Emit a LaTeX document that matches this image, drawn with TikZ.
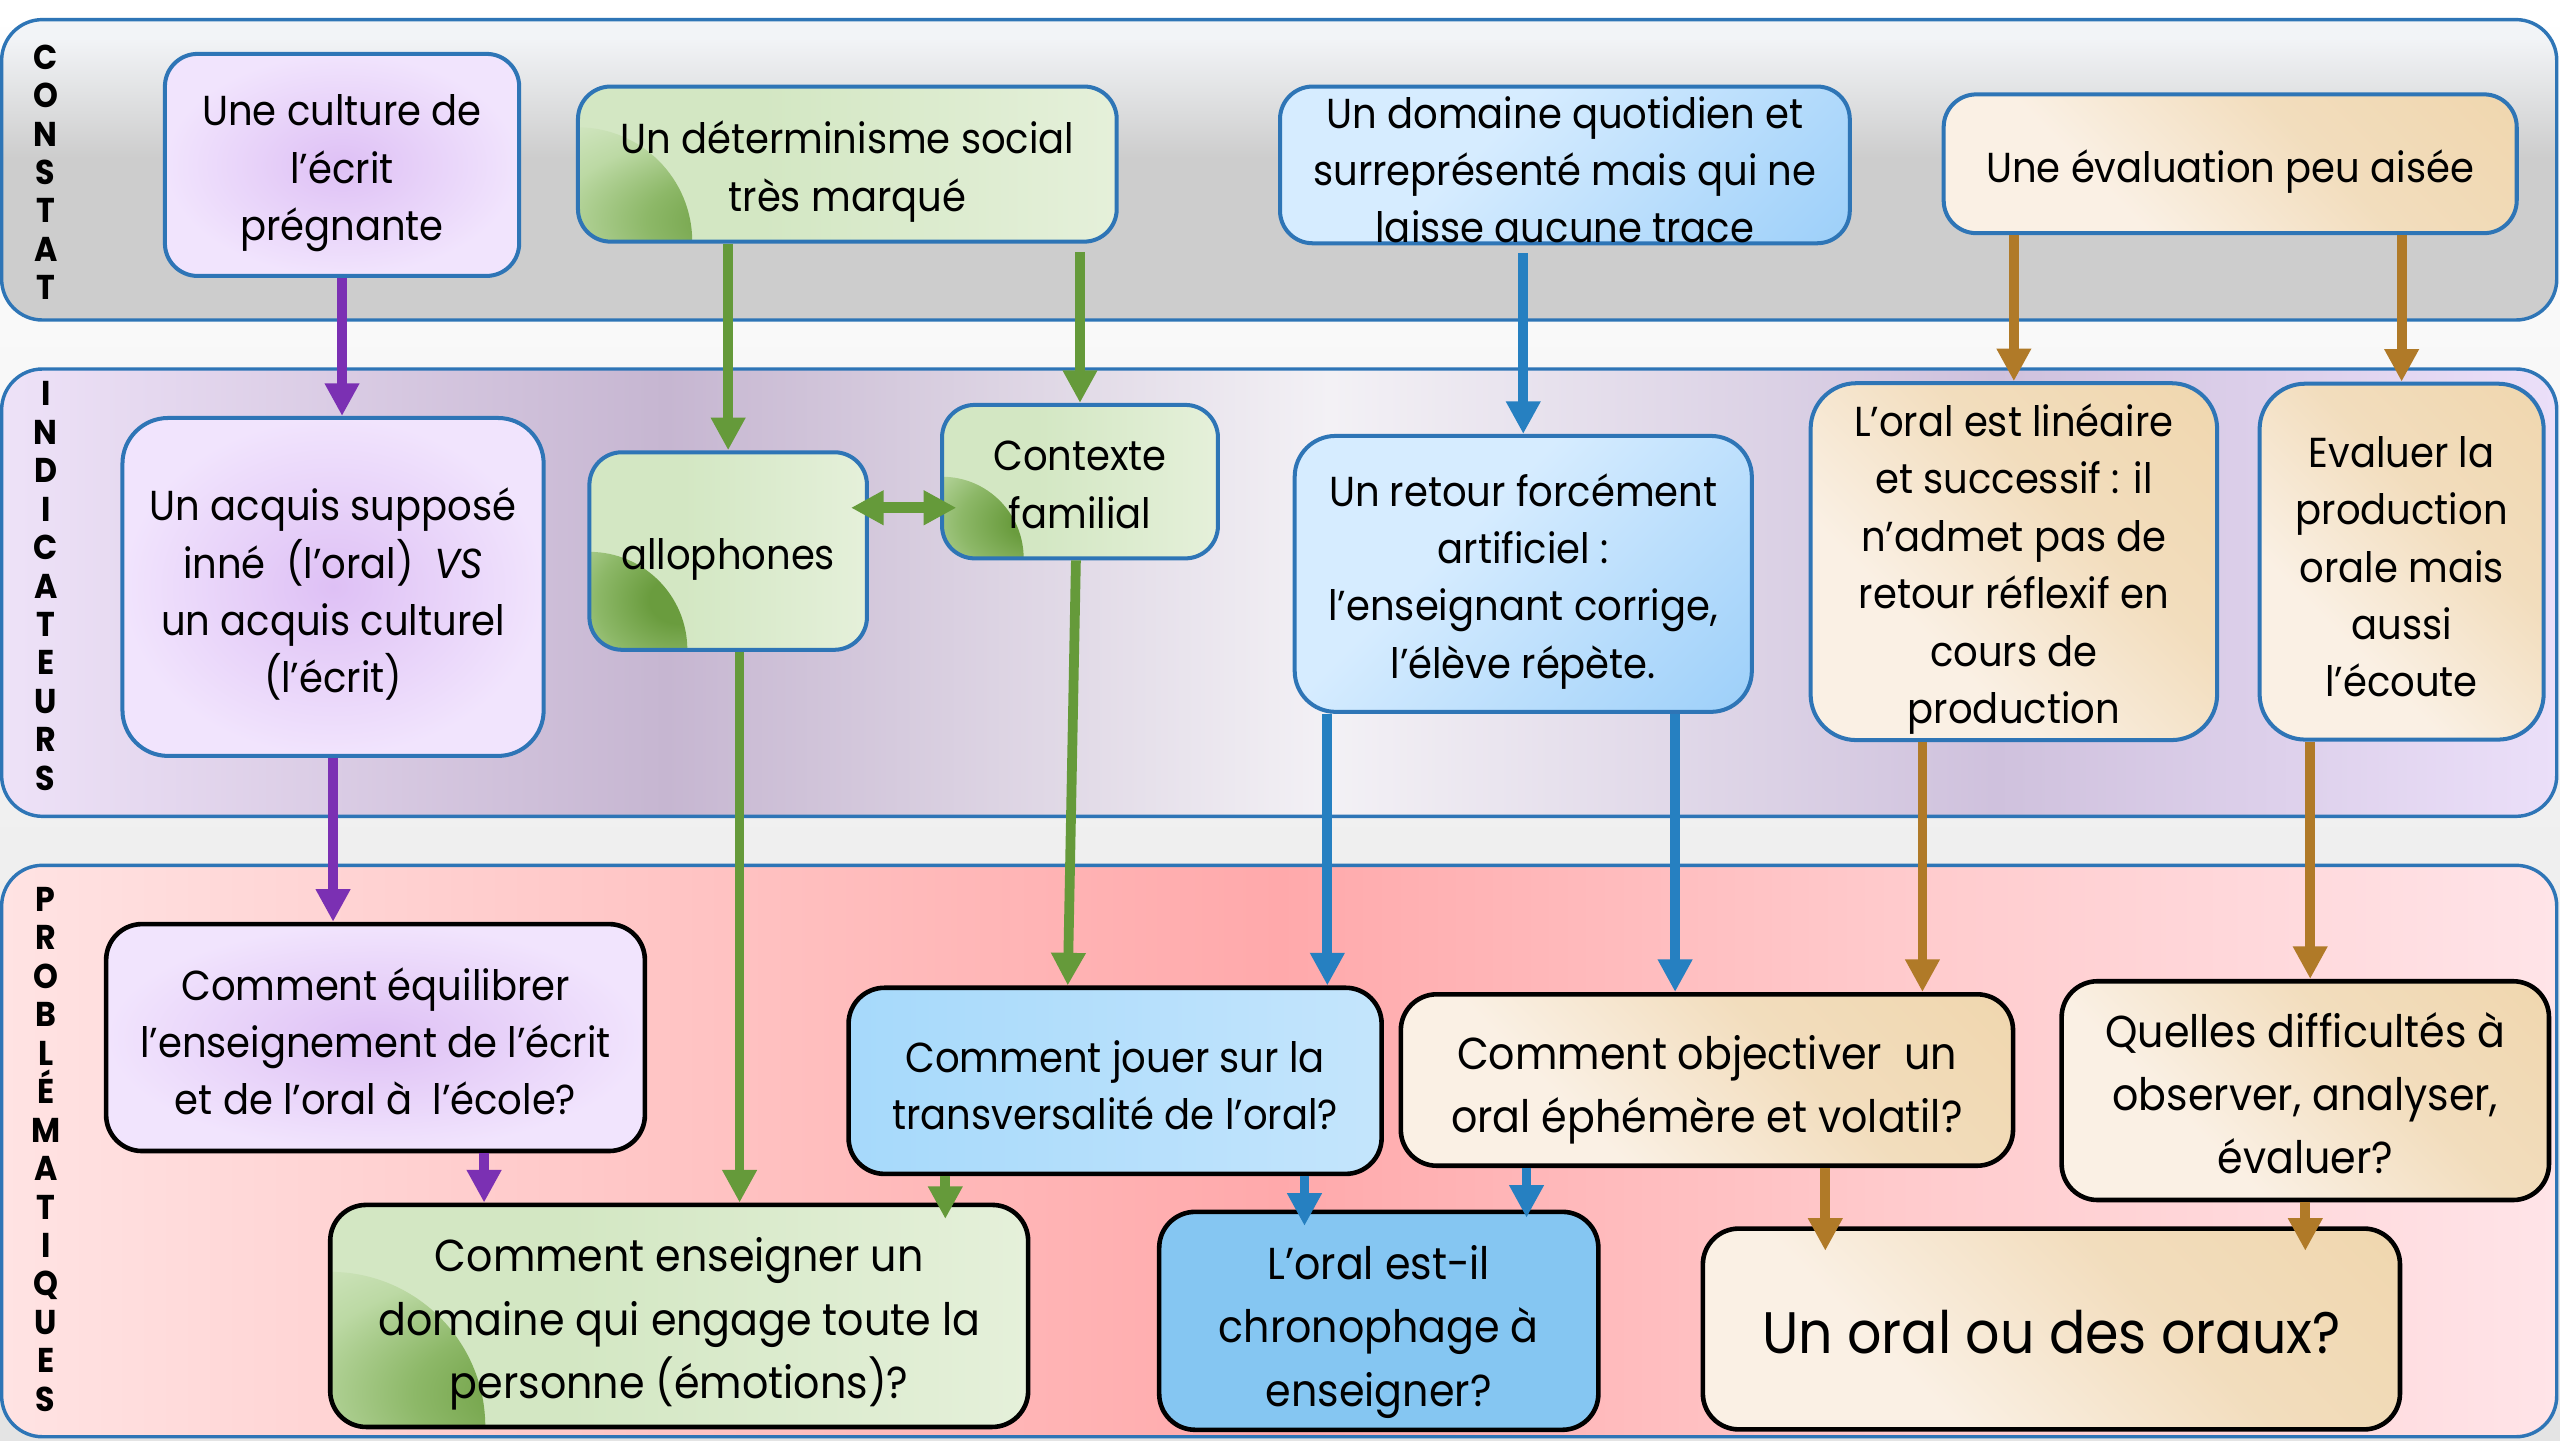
\documentclass[tikz,border=0pt]{standalone}
\usepackage{fontspec}
\setmainfont[FakeStretch=0.92]{Poppins}
\usepackage{tikz}
\usetikzlibrary{arrows.meta,shadings}
\definecolor{bandblue}{HTML}{2E75B6}
\definecolor{arrPurple}{HTML}{7B30B3}
\definecolor{arrGreen}{HTML}{659A3A}
\definecolor{arrBlue}{HTML}{2680C1}
\definecolor{arrBrown}{HTML}{B07A28}
\definecolor{purpC}{HTML}{DEC0F5}
\definecolor{purpE}{HTML}{F1E4FD}
\definecolor{grnDark}{HTML}{6A9C3E}
\definecolor{grnMid}{HTML}{8DB868}
\definecolor{grnSoft}{HTML}{BCD9A4}
\definecolor{grnLight}{HTML}{D3E7C3}
\definecolor{grnPale}{HTML}{E5F0DA}
\definecolor{bluLight}{HTML}{D6ECFF}
\definecolor{bluDark}{HTML}{8AC6F7}
\definecolor{jouL}{HTML}{A6D9FB}
\definecolor{jouM}{HTML}{83C6F2}
\definecolor{jouR}{HTML}{C4E5FC}
\definecolor{chrFill}{HTML}{85C6F2}
\definecolor{bgeLight}{HTML}{FAF0E4}
\definecolor{bgeMid}{HTML}{F2DDBD}
\definecolor{bgeDark}{HTML}{EFD3A6}
\definecolor{grTop}{HTML}{F2F4F7}
\definecolor{grBot}{HTML}{CDCDCD}
\definecolor{indA}{HTML}{EEE2F8}
\definecolor{indB}{HTML}{C6B6D1}
\definecolor{indC}{HTML}{F3F1F5}
\definecolor{indD}{HTML}{CFC1DD}
\definecolor{indE}{HTML}{EBDFF9}
\definecolor{prA}{HTML}{FFE3E3}
\definecolor{prB}{HTML}{FFC0C0}
\definecolor{prC}{HTML}{FFA9AB}
\definecolor{prD}{HTML}{FFCACC}
\definecolor{prE}{HTML}{FFE4E8}
\definecolor{bgGray}{HTML}{E4E4E4}
\pgfdeclareradialshading{greenspot}{\pgfpoint{0bp}{0bp}}{color(0bp)=(grnDark); color(4bp)=(grnDark); color(11bp)=(grnMid); color(18bp)=(grnSoft); color(25bp)=(grnLight); color(50bp)=(grnLight)}
\pgfdeclarehorizontalshading{greenbase}{100bp}{color(0bp)=(grnLight); color(42bp)=(grnLight); color(75bp)=(grnPale); color(100bp)=(grnPale)}
\pgfdeclarehorizontalshading{beigecorner}{100bp}{color(0bp)=(bgeLight); color(35bp)=(bgeLight); color(60bp)=(bgeMid); color(100bp)=(bgeDark)}
\pgfdeclarehorizontalshading{bluecorner}{100bp}{color(0bp)=(bluLight); color(40bp)=(bluLight); color(100bp)=(bluDark)}
\pgfdeclareverticalshading{constatshade}{100bp}{color(0bp)=(grBot); color(52bp)=(grBot); color(72bp)=(grTop); color(100bp)=(grTop)}
\pgfdeclarehorizontalshading{indicshade}{100bp}{color(0bp)=(indA); color(25bp)=(indA); color(38bp)=(indB); color(51bp)=(indC); color(64bp)=(indD); color(75bp)=(indE); color(100bp)=(indE)}
\pgfdeclarehorizontalshading{problshade}{100bp}{color(0bp)=(prA); color(25bp)=(prA); color(40bp)=(prB); color(50bp)=(prC); color(62bp)=(prD); color(75bp)=(prE); color(100bp)=(prE)}
\newcommand{\topfont}{\fontsize{7.3}{10}\selectfont}
\newcommand{\qfont}{\fontsize{7.8}{11}\selectfont}
\tikzset{>={Triangle[width=2mm,length=2mm]}}
\tikzset{strut height/.store in=\boxstrut, strut height=8.3pt}
\tikzset{greenfill/.style={shading=greenbase, path picture={\shade[shading=greenspot] (path picture bounding box.south west) circle (#1);}}, greenfill/.default=7mm}
\tikzset{topbox/.style={draw=bandblue, line width=0.7pt, rounded corners=2mm, align=flush center, inner sep=1pt, font=\topfont, minimum width=#1, text width=#1-2.5pt, strut height=8.3pt, execute at begin node={\rule{0pt}{\boxstrut}}}}
\tikzset{qbox/.style={draw=black, line width=0.8pt, rounded corners=2.2mm, align=flush center, inner sep=1pt, font=\qfont, minimum width=#1, text width=#1-2.5pt, strut height=8.7pt, execute at begin node={\rule{0pt}{\boxstrut}}}}
\tikzstyle{band}=[draw=bandblue, line width=0.6pt, rounded corners=2.5mm]
\tikzstyle{sidelbl}=[align=center, inner sep=0pt, font=\fontsize{6}{6.7}\selectfont\bfseries]
\tikzstyle{purplefill}=[inner color=purpC, outer color=purpE]
\tikzstyle{beigefill}=[shading=beigecorner, shading angle=45]
\tikzstyle{bluefill}=[shading=bluecorner, shading angle=-45]
\tikzstyle{purparrow}=[draw=arrPurple, line width=1.7pt, ->]
\tikzstyle{grnarrow}=[draw=arrGreen, line width=1.7pt, ->]
\tikzstyle{bluarrow}=[draw=arrBlue, line width=1.7pt, ->]
\tikzstyle{brnarrow}=[draw=arrBrown, line width=1.7pt, ->]

\begin{document}
\begin{tikzpicture}[x=0.1mm,y=-0.1mm]
	\useasboundingbox (0,0) rectangle (1568,882);
	\fill[top color=white, bottom color=bgGray] (0,0) rectangle (1568,882);
	\draw[band, shading=constatshade] (1,12) rectangle (1566,196);
	\draw[band, shading=indicshade] (1,226) rectangle (1566,500);
	\draw[band, shading=problshade] (1,530) rectangle (1566,880);

	\node[sidelbl] (lblcon) at (28,105.5) {C\\O\\N\\S\\T\\A\\T};
	\node[sidelbl] (lblind) at (28,359) {I\\N\\D\\I\\C\\A\\T\\E\\U\\R\\S};
	\node[sidelbl] (lblpro) at (28,704) {P\\R\\O\\B\\L\\É\\M\\A\\T\\I\\Q\\U\\E\\S};

	\node[topbox=21.7mm, purplefill, minimum height=13.6mm] (cult) at (209.5,101) {Une culture de\\l’écrit\\prégnante};
	\node[topbox=33mm, greenfill, minimum height=9.5mm] (deter) at (519,100.5) {Un déterminisme social\\très marqué};
	\node[topbox=34.9mm, bluefill, minimum height=9.6mm] (quot) at (958.5,101) {};
	\node[font=\topfont, align=center, inner sep=0pt] (quottxt) at (958.5,104) {Un domaine quotidien et\\surreprésenté mais qui ne\\laisse aucune trace};
	\node[topbox=35.1mm, beigefill, minimum height=8.5mm] (eva) at (1366,100.3) {Une évaluation peu aisée};

	\node[topbox=25.8mm, purplefill, rounded corners=2.8mm, minimum height=20.7mm] (acq) at (204,359.5) {Un acquis supposé\\inné~ (l’oral)~ \textit{VS}\\un acquis culturel\\(l’écrit)};
	\node[topbox=17mm, greenfill=6mm, minimum height=12.1mm] (allo) at (446,337.5) {allophones};
	\node[topbox=16.9mm, greenfill=5mm, strut height=6.3pt, minimum height=9.4mm] (ctx) at (661.5,295) {Contexte\\familial};
	\node[topbox=28mm, bluefill, rounded corners=2.5mm, minimum height=16.9mm] (ret) at (933,351.5) {Un retour forcément\\artificiel :\\l’enseignant corrige,\\l’élève répète.};
	\node[topbox=24.9mm, beigefill, rounded corners=2.8mm, minimum height=21.8mm] (lin) at (1233.5,344) {L’oral est linéaire\\et successif : il\\n’admet pas de\\retour réflexif en\\cours de\\production};
	\node[topbox=17.4mm, beigefill, rounded corners=2.8mm, strut height=7.2pt, minimum height=21.8mm] (evl) at (1471,344) {Evaluer la\\production\\orale mais\\aussi\\l’écoute};

	\node[qbox=33mm, purplefill, font=\topfont, strut height=7pt, minimum height=13.9mm] (equ) at (230,635.5) {Comment équilibrer\\l’enseignement de l’écrit\\et de l’oral à~ l’école?};
	\node[qbox=42.75mm, greenfill=9.5mm, minimum height=13.6mm] (ens) at (416,806) {Comment enseigner un\\domaine qui engage toute la\\personne (émotions)?};
	\node[qbox=32.65mm, left color=jouL, middle color=jouM, right color=jouR, font=\topfont, strut height=7pt, minimum height=11.4mm] (jou) at (683,662) {Comment jouer sur la\\transversalité de l’oral?};
	\node[qbox=26.9mm, fill=chrFill, strut height=9.8pt, minimum height=13.35mm] (chr) at (844.5,809) {L’oral est-il\\chronophage à\\enseigner?};
	\node[qbox=37.5mm, beigefill, strut height=9.2pt, minimum height=10.5mm] (obj) at (1045.5,661.5) {Comment objectiver~ un\\oral éphémère et volatil?};
	\node[qbox=29.85mm, beigefill, execute at end node={\rule[-1.8pt]{0pt}{1.8pt}}, minimum height=13.4mm] (que) at (1412,668) {Quelles difficultés à\\observer, analyser,\\évaluer?};
	\node[qbox=42.7mm, beigefill, minimum height=12.3mm, font=\fontsize{10.2}{12}\selectfont] (ora) at (1256.5,814) {Un oral ou des oraux?};

	\draw[purparrow] (cult.south) -- (cult.south |- acq.north);
	\draw[purparrow] (acq.south) -- (acq.south |- equ.north);
	\draw[purparrow] ([xshift=6.65mm]equ.south) -- ([xshift=6.65mm]equ.south |- ens.north);

	\draw[grnarrow] (allo.north |- deter.south) -- (allo.north);
	\draw[grnarrow, shorten <=0.5mm] (ctx.north |- deter.south) -- (ctx.north);
	\draw[grnarrow, <->, line width=1.9pt, shorten <=-1.1mm, shorten >=-1mm] ([yshift=2.65mm]allo.east) -- ([yshift=2.65mm]allo.east -| ctx.west);
	\draw[grnarrow] ([xshift=0.7mm]allo.south) -- ([xshift=0.7mm]allo.south |- ens.north);
	\draw[grnarrow] ([xshift=-0.25mm]ctx.south) -- ([xshift=-2.9mm]jou.north);
	\draw[grnarrow, shorten >=-1mm] ([xshift=-10.4mm]jou.south) -- ([xshift=-10.4mm]jou.south |- ens.north);

	\draw[bluarrow, shorten <=0.5mm] (ret.north |- quot.south) -- (ret.north);
	\draw[bluarrow] ([xshift=-12mm]ret.south) -- ([xshift=-12mm]ret.south |- jou.north);
	\draw[bluarrow] ([xshift=9.3mm]ret.south) -- ([xshift=9.3mm]ret.south |- obj.north);
	\draw[bluarrow, shorten >=-1mm] ([xshift=11.6mm]jou.south) -- ([xshift=11.6mm]jou.south |- chr.north);
	\draw[bluarrow, shorten >=-0.5mm] ([xshift=-11.05mm]obj.south) -- ([xshift=-11.05mm]obj.south |- chr.north);

	\draw[brnarrow] (lin.north |- eva.south) -- (lin.north);
	\draw[brnarrow] (evl.north |- eva.south) -- (evl.north);
	\draw[brnarrow] ([xshift=-5.6mm]lin.south) -- ([xshift=-5.6mm]lin.south |- obj.north);
	\draw[brnarrow] ([xshift=-5.6mm]evl.south) -- ([xshift=-5.6mm]evl.south |- que.north);
	\draw[brnarrow, shorten >=-1.5mm] ([xshift=7.25mm]obj.south) -- ([xshift=7.25mm]obj.south |- ora.north);
	\draw[brnarrow, shorten >=-1.5mm] (que.south) -- (que.south |- ora.north);
\end{tikzpicture}
\end{document}
